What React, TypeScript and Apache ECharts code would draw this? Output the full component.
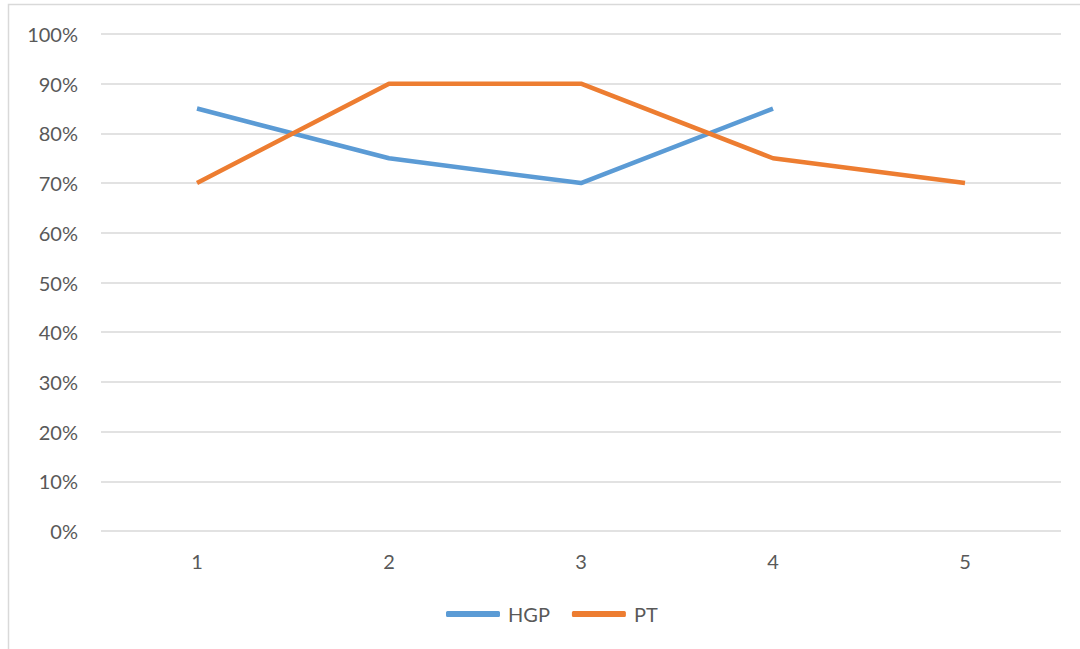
import React, { useEffect, useRef } from "react";
import * as echarts from "echarts";

const categories = ["1", "2", "3", "4", "5"];
const hgp = [85, 75, 70, 85, null];
const pt = [70, 90, 90, 75, 70];
const seriesNames = ["HGP", "PT"];

export default function App() {
  const ref = useRef<HTMLDivElement>(null);
  useEffect(() => {
    const chart = echarts.init(ref.current!, null, { renderer: "svg" });
    const font = "Lato, 'Open Sans', sans-serif";
    chart.setOption({
      animation: false,
      backgroundColor: "#ffffff",
      graphic: [
        {
          type: "rect",
          shape: { x: 8.5, y: 4.5, width: 1200, height: 800 },
          style: { fill: "none", stroke: "#D9D9D9", lineWidth: 1.5 },
          silent: true,
        },
      ],
      grid: { left: 101, right: 19, top: 34, bottom: 118, containLabel: false },
      xAxis: {
        type: "category",
        data: categories,
        boundaryGap: true,
        axisLine: { show: false },
        axisTick: { show: false },
        axisLabel: { color: "#595959", fontSize: 20, fontFamily: font, margin: 20 },
      },
      yAxis: {
        type: "value",
        min: 0,
        max: 100,
        interval: 10,
        axisLine: { show: false },
        axisTick: { show: false },
        splitLine: { lineStyle: { color: "#D9D9D9", width: 1.5 } },
        axisLabel: {
          color: "#595959",
          fontSize: 20,
          fontFamily: font,
          margin: 23,
          formatter: (v: number) => v + "%",
        },
      },
      legend: {
        top: 604,
        left: 446,
        padding: 0,
        itemWidth: 54,
        itemHeight: 6,
        itemGap: 22,
        icon: "roundRect",
        textStyle: { color: "#595959", fontSize: 20, fontFamily: font, padding: [0, 0, 0, 3] },
        data: seriesNames,
      },
      series: [
        {
          name: seriesNames[0],
          type: "line",
          data: hgp,
          symbol: "none",
          color: "#5B9BD5",
          lineStyle: { width: 4.5, color: "#5B9BD5" },
        },
        {
          name: seriesNames[1],
          type: "line",
          data: pt,
          symbol: "none",
          color: "#ED7D31",
          lineStyle: { width: 4.5, color: "#ED7D31" },
        },
      ],
    });
    return () => chart.dispose();
  }, []);
  return (
    <div
      ref={ref}
      style={{ position: "fixed", left: 0, top: 0, width: 1080, height: 649 }}
    />
  );
}
